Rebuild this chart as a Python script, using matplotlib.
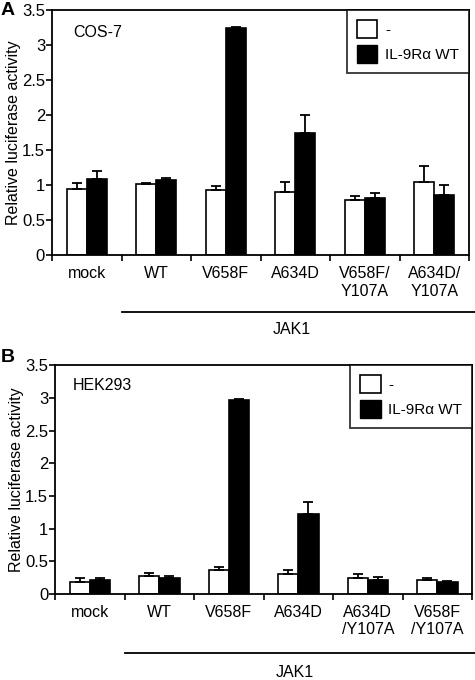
import numpy as np
import matplotlib.pyplot as plt
from matplotlib.patches import Patch
import matplotlib.transforms as mtransforms

plt.rcParams['font.family'] = ['Liberation Sans', 'DejaVu Sans']
plt.rcParams['font.size'] = 11

# Datos ----------------------------------------------------------------------
etiquetas_a = ['mock', 'WT', 'V658F', 'A634D', 'V658F/\nY107A', 'A634D/\nY107A']
blanco_a = [0.94, 1.01, 0.93, 0.90, 0.78, 1.05]
blanco_a_err = [0.09, 0.02, 0.05, 0.15, 0.06, 0.22]
negro_a = [1.085, 1.07, 3.24, 1.74, 0.82, 0.86]
negro_a_err = [0.12, 0.03, 0.02, 0.26, 0.07, 0.14]

etiquetas_b = ['mock', 'WT', 'V658F', 'A634D', 'A634D\n/Y107A', 'V658F\n/Y107A']
blanco_b = [0.19, 0.275, 0.37, 0.305, 0.25, 0.22]
blanco_b_err = [0.05, 0.045, 0.04, 0.055, 0.06, 0.02]
negro_b = [0.21, 0.25, 2.96, 1.22, 0.22, 0.18]
negro_b_err = [0.03, 0.02, 0.03, 0.18, 0.04, 0.02]

leyenda = ['-', 'IL-9Rα WT']


def panel(ax, etiquetas, blanco, blanco_err, negro, negro_err, celula, x_cel, y_linea, y_jak):
    x = np.arange(len(etiquetas))
    w = 0.29
    ax.bar(x - w / 2, blanco, w, color='white', edgecolor='black', linewidth=1.2,
           yerr=[np.zeros(len(x)), blanco_err], capsize=3.5,
           error_kw=dict(elinewidth=1.3, capthick=1.3, ecolor='black'))
    ax.bar(x + w / 2, negro, w, color='black', edgecolor='black', linewidth=1.2,
           yerr=[np.zeros(len(x)), negro_err], capsize=3.5,
           error_kw=dict(elinewidth=1.3, capthick=1.3, ecolor='black'))
    ax.set_xlim(-0.5, len(x) - 0.5)
    ax.set_ylim(0, 3.5)
    ax.set_yticks([0, 0.5, 1, 1.5, 2, 2.5, 3, 3.5])
    ax.set_yticklabels(['0', '0.5', '1', '1.5', '2', '2.5', '3', '3.5'], fontsize=12)
    ax.set_xticks(x)
    ax.set_xticklabels(etiquetas, fontsize=11.5)
    ax.set_xticks(np.arange(len(x) + 1) - 0.5, minor=True)
    ax.tick_params(axis='x', which='major', length=0, pad=8)
    ax.tick_params(axis='x', which='minor', length=4, width=1.2)
    ax.tick_params(axis='y', length=4, width=1.2, pad=1)
    for s in ax.spines.values():
        s.set_linewidth(1.3)
    ax.set_ylabel('Relative luciferase activity', fontsize=11.5, labelpad=1)
    ax.text(x_cel, 0.91, celula, transform=ax.transAxes, fontsize=11.5, va='center')

    # linea JAK1
    trans = mtransforms.blended_transform_factory(ax.transData, ax.transAxes)
    ax.plot([0.5, 5.7], [y_linea, y_linea], color='black', lw=1.3,
            transform=trans, clip_on=False)
    ax.text(2.95, y_jak, 'JAK1', transform=trans, ha='center', va='center', fontsize=11.5)

    handles = [Patch(facecolor='white', edgecolor='black', linewidth=1.2),
               Patch(facecolor='black', edgecolor='black')]
    leg = ax.legend(handles, leyenda, loc='upper right', fancybox=False,
                    edgecolor='black', fontsize=11, handlelength=1.35, handleheight=1.4,
                    borderaxespad=0, borderpad=0.65, handletextpad=0.5, labelspacing=0.5)
    leg.get_frame().set_linewidth(1.3)


fig = plt.figure(figsize=(4.75, 6.8), dpi=100)
ax1 = fig.add_axes([0.1095, 0.625, 0.878, 0.36])
ax2 = fig.add_axes([0.116, 0.1265, 0.878, 0.3365])

panel(ax1, etiquetas_a, blanco_a, blanco_a_err, negro_a, negro_a_err, 'COS-7', 0.05, -0.233, -0.306)
panel(ax2, etiquetas_b, blanco_b, blanco_b_err, negro_b, negro_b_err, 'HEK293', 0.043, -0.258, -0.345)

fig.text(0.002, 0.985, 'A', fontsize=14, fontweight='bold', va='center')
fig.text(0.002, 0.474, 'B', fontsize=14, fontweight='bold', va='center')

fig.savefig('out.png', dpi=100)
